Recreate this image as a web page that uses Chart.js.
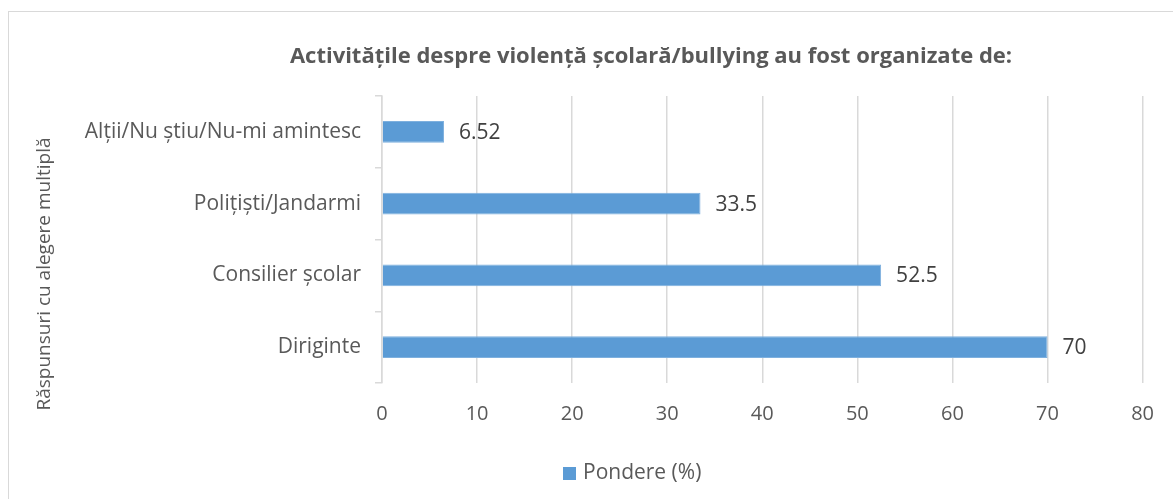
<!DOCTYPE html>
<html>
<head>
<meta charset="utf-8">
<script src="https://cdn.jsdelivr.net/npm/chart.js@4/dist/chart.umd.min.js"></script>
<style>
    html, body { margin: 0; padding: 0; background: #fff; overflow: hidden; }
    .frame {
        position: absolute; left: 8px; top: 11px; width: 1200px; height: 600px;
        border-left: 1px solid #d9d9d9; border-top: 1px solid #d9d9d9;
    }
    .wrap { position: absolute; left: 0; top: 0; width: 1173px; height: 499px; }
</style>
</head>
<body>
<div class="frame"></div>
<div class="wrap"><canvas id="chart"></canvas></div>
<script>
// Chart data
const categories = ['Alții/Nu știu/Nu-mi amintesc', 'Polițiști/Jandarmi', 'Consilier școlar', 'Diriginte'];
const values = [6.52, 33.5, 52.5, 70];
const seriesName = 'Pondere (%)';
const xTicks = [0, 10, 20, 30, 40, 50, 60, 70, 80];
const chartTitle = 'Activitățile despre violență școlară/bullying au fost organizate de:';
const yTitle = 'Răspunsuri cu alegere multiplă';

const FONT = '"Open Sans", sans-serif';
const BAR_COLOR = '#5b9bd5';

// excel places title / axis title / legend off-center, so draw them by hand
const extraText = {
    id: 'extraText',
    afterDatasetsDraw(chart) {
        const ctx = chart.ctx;
        const meta = chart.getDatasetMeta(0);

        // value labels
        ctx.save();
        ctx.font = '21px ' + FONT;
        ctx.fillStyle = '#404040';
        ctx.textBaseline = 'middle';
        ctx.textAlign = 'left';
        meta.data.forEach((bar, i) => {
            ctx.fillText(String(values[i]), bar.x + 15, bar.y + 1);
        });
        ctx.restore();

        // title
        ctx.save();
        ctx.font = 'bold 22px ' + FONT;
        ctx.fillStyle = '#595959';
        ctx.textAlign = 'center';
        ctx.textBaseline = 'middle';
        ctx.fillText(chartTitle, 651, 57);
        ctx.restore();

        // y axis title
        ctx.save();
        ctx.translate(45, 274);
        ctx.rotate(-Math.PI / 2);
        ctx.font = '19px ' + FONT;
        ctx.fillStyle = '#595959';
        ctx.textAlign = 'center';
        ctx.textBaseline = 'middle';
        ctx.fillText(yTitle, 0, 0);
        ctx.restore();

        // legend
        ctx.save();
        ctx.fillStyle = BAR_COLOR;
        ctx.fillRect(563, 467, 13, 13);
        ctx.font = '21px ' + FONT;
        ctx.fillStyle = '#595959';
        ctx.textAlign = 'left';
        ctx.textBaseline = 'middle';
        ctx.fillText(seriesName, 583, 473);
        ctx.restore();
    }
};

const ctx = document.getElementById('chart').getContext('2d');
const chart = new Chart(ctx, {
    type: 'bar',
    data: {
        labels: categories,
        datasets: [{
            label: seriesName,
            data: values,
            backgroundColor: BAR_COLOR,
            borderColor: '#7eb0de',
            borderWidth: 1,
            barPercentage: 0.6,
            categoryPercentage: 0.51
        }]
    },
    options: {
        indexAxis: 'y',
        responsive: true,
        maintainAspectRatio: false,
        animation: false,
        layout: {
            padding: { left: 28, right: 30, top: 96, bottom: 56 }
        },
        scales: {
            x: {
                min: 0,
                max: 80,
                afterBuildTicks: (s) => { s.ticks = xTicks.map(v => ({ value: v })); },
                afterFit: (s) => { s.height = 60; },
                border: { display: false },
                grid: { color: '#d9d9d9', lineWidth: 1.5, drawTicks: false },
                ticks: {
                    color: '#595959',
                    font: { family: FONT, size: 20 },
                    padding: 19
                }
            },
            y: {
                afterFit: (s) => { s.width = 354; },
                border: { display: true, color: '#d9d9d9', width: 1.5 },
                grid: {
                    offset: true,
                    drawOnChartArea: false,
                    drawTicks: true,
                    tickLength: 7,
                    color: '#d9d9d9',
                    lineWidth: 1.5
                },
                ticks: {
                    color: '#595959',
                    font: { family: FONT, size: 21 },
                    padding: 14
                }
            }
        },
        plugins: {
            title: { display: false },
            legend: { display: false },
            tooltip: { enabled: false }
        }
    },
    plugins: [extraText]
});
</script>
</body>
</html>
